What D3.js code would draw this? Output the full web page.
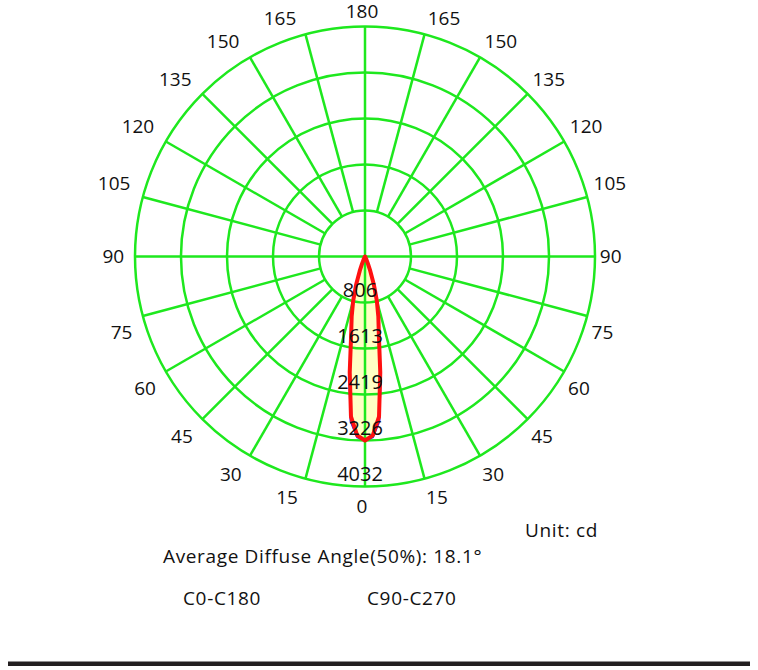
<!DOCTYPE html>
<html>
<head>
<meta charset="utf-8">
<script src="https://cdn.jsdelivr.net/npm/d3@7"></script>
<style>
  body { margin: 0; background: #fff; }
  text { font-family: "Open Sans", "Noto Sans", sans-serif; fill: #111; }
</style>
</head>
<body>
<div id="chart"></div>
<script>
const gammaAngles = [0, 2.5, 5, 7.5, 10, 12.5, 15, 17.5, 20, 22.5, 25, 27.5, 30, 35, 40, 50, 60, 70, 80, 90, 120, 150, 180];
const c0c180 = [3226, 3140, 2820, 2050, 1400, 1080, 800, 520, 270, 130, 60, 30, 15, 8, 5, 3, 2, 1, 0, 0, 0, 0, 0];
const c90c270 = [3226, 3170, 2900, 2100, 1410, 1080, 800, 520, 270, 130, 60, 30, 15, 8, 5, 3, 2, 1, 0, 0, 0, 0, 0];
const ringValues = [806, 1613, 2419, 3226, 4032];
const angleTicks = [0, 15, 30, 45, 60, 75, 90, 105, 120, 135, 150, 165, 180];
// position des étiquettes d'angle (mise en page, pas des données)
const labelAngles = [0, 17.3, 31.1, 45, 58.8, 72.6, 90, 106.5, 120.1, 133.5, 147.1, 161, 180];
const labelRadii = [250, 252, 254, 254.7, 253.6, 252, 248.7, 258.5, 259, 257.5, 255.7, 252, 245.5];

const W = 758, H = 670;
const cx = 365, cy = 256.5, R = 230;

const svg = d3.select("#chart").append("svg")
  .attr("width", W).attr("height", H);

const r = d3.scaleLinear().domain([0, 4032]).range([0, R]);
const toRad = d => d * Math.PI / 180;

const g = svg.append("g").attr("transform", `translate(${cx},${cy})`);

// points des deux demi-plans : angle 0 en bas
function planePoints(vals) {
  const pts = [];
  gammaAngles.forEach((a, i) => pts.push({ a: Math.PI - toRad(a), v: vals[i] }));
  for (let i = gammaAngles.length - 2; i > 0; i--) {
    pts.push({ a: Math.PI + toRad(gammaAngles[i]), v: vals[i] });
  }
  return pts;
}

const line = d3.lineRadial()
  .angle(d => d.a)
  .radius(d => r(d.v))
  .curve(d3.curveLinearClosed);

// remplissage
[c90c270, c0c180].forEach(vals => {
  g.append("path")
    .attr("d", line(planePoints(vals)))
    .attr("fill", "#ffffc4")
    .attr("stroke", "none");
});

// grille
const green = "#1ee81e";
ringValues.forEach(v => {
  g.append("circle").attr("r", r(v))
    .attr("fill", "none").attr("stroke", green).attr("stroke-width", 2.5);
});
d3.range(0, 360, 15).forEach(a => {
  const t = toRad(a);
  const r0 = (a % 90 === 0) ? 0 : r(ringValues[0]);
  g.append("line")
    .attr("x1", r0 * Math.sin(t)).attr("y1", r0 * Math.cos(t))
    .attr("x2", R * Math.sin(t)).attr("y2", R * Math.cos(t))
    .attr("stroke", green).attr("stroke-width", 2.5);
});

// courbes
g.append("path")
  .attr("d", line(planePoints(c90c270)))
  .attr("fill", "none").attr("stroke", "#1a1aff").attr("stroke-width", 2);
g.append("path")
  .attr("d", line(planePoints(c0c180)))
  .attr("fill", "none").attr("stroke", "#ff1010").attr("stroke-width", 4)
  .attr("stroke-linejoin", "round");

// étiquettes des anneaux
ringValues.forEach(v => {
  g.append("text")
    .attr("x", -5).attr("y", r(v) - 12.5)
    .attr("dy", "0.35em")
    .attr("text-anchor", "middle")
    .style("font-size", "20px")
    .text(v);
});

// étiquettes des angles
angleTicks.forEach((a, i) => {
  const t = toRad(labelAngles[i]);
  const rl = labelRadii[i];
  const sides = (a === 0 || a === 180) ? [1] : [1, -1];
  sides.forEach(s => {
    g.append("text")
      .attr("x", -3 + s * rl * Math.sin(t))
      .attr("y", rl * Math.cos(t))
      .attr("dy", "0.35em")
      .attr("text-anchor", "middle")
      .style("font-size", "19px")
      .text(a);
  });
});

// textes du bas
const txt = (x, y, s) => svg.append("text").attr("x", x).attr("y", y)
  .style("font-size", "19px").style("letter-spacing", "0.65px").text(s);
txt(525, 537, "Unit: cd");
txt(163, 563, "Average Diffuse Angle(50%): 18.1°");
txt(183, 605, "C0-C180");
txt(367, 605, "C90-C270");

svg.append("rect").attr("x", 8).attr("y", 661.5).attr("width", 742).attr("height", 4.5).attr("fill", "#231f20");
</script>
</body>
</html>
